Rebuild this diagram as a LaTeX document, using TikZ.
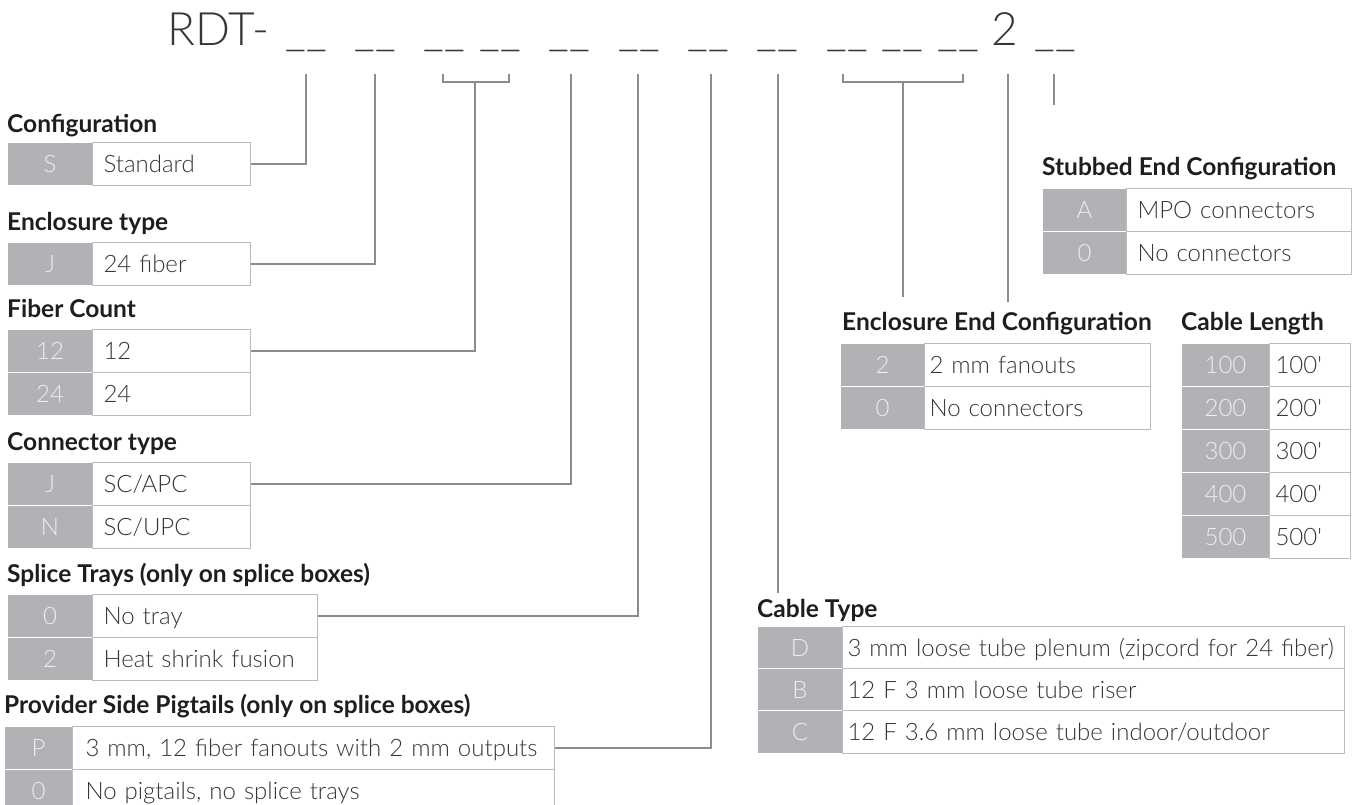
\documentclass[tikz,border=0pt]{standalone}
\usepackage{fontspec}
\setmainfont{Lato}
\newfontfamily\latolight{Lato Light}
\usetikzlibrary{positioning,calc}
\definecolor{keyfill}{RGB}{177,178,181}
\definecolor{keytext}{RGB}{238,238,240}
\definecolor{valtext}{RGB}{55,55,55}
\definecolor{valline}{RGB}{188,188,190}
\definecolor{wirecol}{RGB}{140,140,140}
\definecolor{headtext}{RGB}{30,30,30}

\begin{document}
\begin{tikzpicture}[
    x=1pt, y=-1pt,
    keycell/.style={fill=keyfill, draw=white, line width=1pt, text=keytext, font=\latolight\fontsize{24}{28}\selectfont,
        anchor=north west, inner sep=0pt, minimum height=43pt, text height=19pt, text depth=3pt},
    valcell/.style={fill=white, draw=valline, line width=1pt, text=valtext, font=\latolight\fontsize{24}{28}\selectfont,
        anchor=north west, inner xsep=11pt, inner ysep=0pt, minimum height=43pt, align=left, text height=19pt, text depth=3pt},
    heading/.style={anchor=base west, inner sep=0pt, font=\bfseries\fontsize{24.5}{28}\selectfont, text=headtext},
    code/.style={anchor=base, inner sep=0pt, font=\latolight\fontsize{46}{50}\selectfont, text=valtext},
    wire/.style={draw=wirecol, line width=1.3pt},
]
\useasboundingbox (0,0) rectangle (1352,804);

% Part number
\node[code, anchor=base west] (rdt) at (167,45) {RDT-};
\node[code] (u1) at (306,45) {\_\_};
\node[code] (u2) at (375,45) {\_\_};
\node[code] (u3) at (444,45) {\_\_};
\node[code] (u4) at (500,45) {\_\_};
\node[code] (u5) at (569,45) {\_\_};
\node[code] (u6) at (639,45) {\_\_};
\node[code] (u7) at (708,45) {\_\_};
\node[code] (u8) at (777,45) {\_\_};
\node[code] (u9) at (847,45) {\_\_};
\node[code] (u10) at (902,45) {\_\_};
\node[code] (u11) at (958,45) {\_\_};
\node[code] (two) at (1005,45) {2};
\node[code] (u12) at (1055,45) {\_\_};

% wire ends under the part number
\coordinate (c1) at (306,74);
\coordinate (c2) at (375,74);
\coordinate (c3l) at (443,74);
\coordinate (c3r) at (509,74);
\coordinate (c3) at (475,82);
\coordinate (c4) at (571,74);
\coordinate (c5) at (638,74);
\coordinate (c6) at (711,74);
\coordinate (c7) at (778,74);
\coordinate (c7e) at (778,593);
\coordinate (c8l) at (843,74);
\coordinate (c8r) at (963,74);
\coordinate (c8) at (903,82);
\coordinate (c8e) at (903,297);
\coordinate (c9) at (1008,74);
\coordinate (c9e) at (1008,302);
\coordinate (c10) at (1054,74);
\coordinate (c10e) at (1054,105);

% Configuration
\node[heading] (cfgH) at (7,132) {Configuration};
\node[keycell, minimum width=85pt] (cfgK) at (7,142) {S};
\node[valcell, text width=136pt] (cfgV) at (92,142) {Standard};

% Enclosure type
\node[heading] (encH) at (7,230) {Enclosure type};
\node[keycell, minimum width=85pt] (encK) at (7,242) {J};
\node[valcell, text width=136pt] (encV) at (92,242) {24 fiber};

% Fiber Count
\node[heading] (fibH) at (7,317) {Fiber Count};
\node[keycell, minimum width=85pt] (fibK1) at (7,329) {12};
\node[valcell, text width=136pt] (fibV1) at (92,329) {12};
\node[keycell, minimum width=85pt] (fibK2) at (7,372) {24};
\node[valcell, text width=136pt] (fibV2) at (92,372) {24};

% Connector type
\node[heading] (conH) at (7,450) {Connector type};
\node[keycell, minimum width=85pt] (conK1) at (7,462) {J};
\node[valcell, text width=136pt] (conV1) at (92,462) {SC/APC};
\node[keycell, minimum width=85pt] (conK2) at (7,505) {N};
\node[valcell, text width=136pt] (conV2) at (92,505) {SC/UPC};

% Splice Trays
\node[heading] (splH) at (7,582) {Splice Trays (only on splice boxes)};
\node[keycell, minimum width=85pt] (splK1) at (7,594) {0};
\node[valcell, text width=203pt] (splV1) at (92,594) {No tray};
\node[keycell, minimum width=85pt] (splK2) at (7,637) {2};
\node[valcell, text width=203pt] (splV2) at (92,637) {Heat shrink fusion};

% Provider Side Pigtails
\node[heading] (proH) at (4,713) {Provider Side Pigtails (only on splice boxes)};
\node[keycell, minimum width=68pt] (proK1) at (4,726) {P};
\node[valcell, inner xsep=13pt, text width=456pt] (proV1) at (72,726) {3 mm, 12 fiber fanouts with 2 mm outputs};
\node[keycell, minimum width=68pt] (proK2) at (4,769) {0};
\node[valcell, inner xsep=13pt, text width=456pt] (proV2) at (72,769) {No pigtails, no splice trays};

% Stubbed End Configuration
\node[heading] (stbH) at (1042,175) {Stubbed End Configuration};
\node[keycell, minimum width=84pt] (stbK1) at (1042,188) {A};
\node[valcell, text width=203pt] (stbV1) at (1126,188) {MPO connectors};
\node[keycell, minimum width=84pt] (stbK2) at (1042,231) {0};
\node[valcell, text width=203pt] (stbV2) at (1126,231) {No connectors};

% Enclosure End Configuration
\node[heading] (eecH) at (842,330) {Enclosure End Configuration};
\node[keycell, minimum width=84pt] (eecK1) at (840,343) {2};
\node[valcell, inner xsep=5pt, text width=216pt] (eecV1) at (924,343) {2 mm fanouts};
\node[keycell, minimum width=84pt] (eecK2) at (840,386) {0};
\node[valcell, inner xsep=5pt, text width=216pt] (eecV2) at (924,386) {No connectors};

% Cable Length
\node[heading] (lenH) at (1181,330) {Cable Length};
\foreach \n/\y in {1/343,2/386,3/429,4/472,5/515}{
    \node[keycell, minimum width=88pt] (lenK\n) at (1181,\y) {\n00};
    \node[valcell, inner xsep=6pt, text width=69pt] (lenV\n) at (1269,\y) {\n00\textquotesingle};
}

% Cable Type
\node[heading] (typH) at (757,617) {Cable Type};
\node[keycell, minimum width=85pt] (typK1) at (757,626) {D};
\node[valcell, inner xsep=5pt, text width=492pt] (typV1) at (842,626) {3 mm loose tube plenum (zipcord for 24 fiber)};
\node[keycell, minimum width=85pt] (typK2) at (757,668) {B};
\node[valcell, inner xsep=5pt, text width=492pt] (typV2) at (842,668) {12 F 3 mm loose tube riser};
\node[keycell, minimum width=85pt] (typK3) at (757,710) {C};
\node[valcell, inner xsep=5pt, text width=492pt] (typV3) at (842,710) {12 F 3.6 mm loose tube indoor/outdoor};

% Wires
\draw[wire] (cfgV.east) -| (c1);
\draw[wire] (encV.east) -| (c2);
\draw[wire] (c3l) -- ++(0,8) -| (c3r);
\draw[wire] (fibV1.east) -| (c3);
\draw[wire] (conV1.east) -| (c4);
\draw[wire] (splV1.east) -| (c5);
\draw[wire] (proV1.east) -| (c6);
\draw[wire] (c7) -- (c7e);
\draw[wire] (c8l) -- ++(0,8) -| (c8r);
\draw[wire] (c8) -- (c8e);
\draw[wire] (c9) -- (c9e);
\draw[wire] (c10) -- (c10e);

\end{tikzpicture}
\end{document}
